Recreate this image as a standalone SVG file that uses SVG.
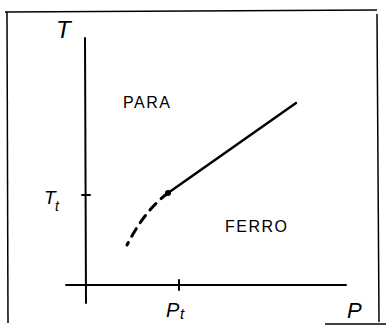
<svg xmlns="http://www.w3.org/2000/svg" width="386" height="326" viewBox="0 0 386 326">
<style>
.ln{stroke:#000;fill:none;stroke-linecap:round}
.frame{stroke:#000;fill:none;stroke-width:1.5}
.lbl{font-family:"Liberation Sans",Arial,sans-serif;fill:#000;font-style:italic}
.cap{font-family:"Liberation Sans",Arial,sans-serif;fill:#000;font-size:16px;letter-spacing:1.5px}
</style>
<rect width="386" height="326" fill="#fff"/>
<g id="frame">
<path class="frame" d="M5 12 L377 10"/>
<path class="frame" d="M7 12 L8 323"/>
<path class="frame" d="M377 14 L379 322"/>
<path class="frame" d="M325 324 L386 324"/>
</g>
<g id="axes">
<path class="ln" stroke-width="2" d="M85 38 L86 303"/>
<path class="ln" stroke-width="2" d="M66 285 L346 285"/>
<path class="ln" stroke-width="2" d="M82 195 L90 195"/>
<path class="ln" stroke-width="2" d="M179 280 L179 290"/>
</g>
<g id="connectors">
<path class="ln" stroke-width="2.5" d="M168 193 L296 103"/>
<path class="ln" stroke-width="3" stroke-dasharray="9 7" d="M168 193 Q145 210 127 245"/>
<circle cx="168" cy="193" r="3" fill="#000"/>
</g>
<g id="labels">
<text class="lbl" x="56" y="38" font-size="24">T</text>
<text class="cap" x="123" y="108">PARA</text>
<text class="lbl" x="44" y="204" font-size="19">T</text>
<text class="lbl" x="55" y="211" font-size="14">t</text>
<text class="cap" x="225" y="232">FERRO</text>
<text class="lbl" x="166" y="317" font-size="20">P</text>
<text class="lbl" x="180" y="319" font-size="15">t</text>
<text class="lbl" x="347" y="318" font-size="22">P</text>
</g>
</svg>
